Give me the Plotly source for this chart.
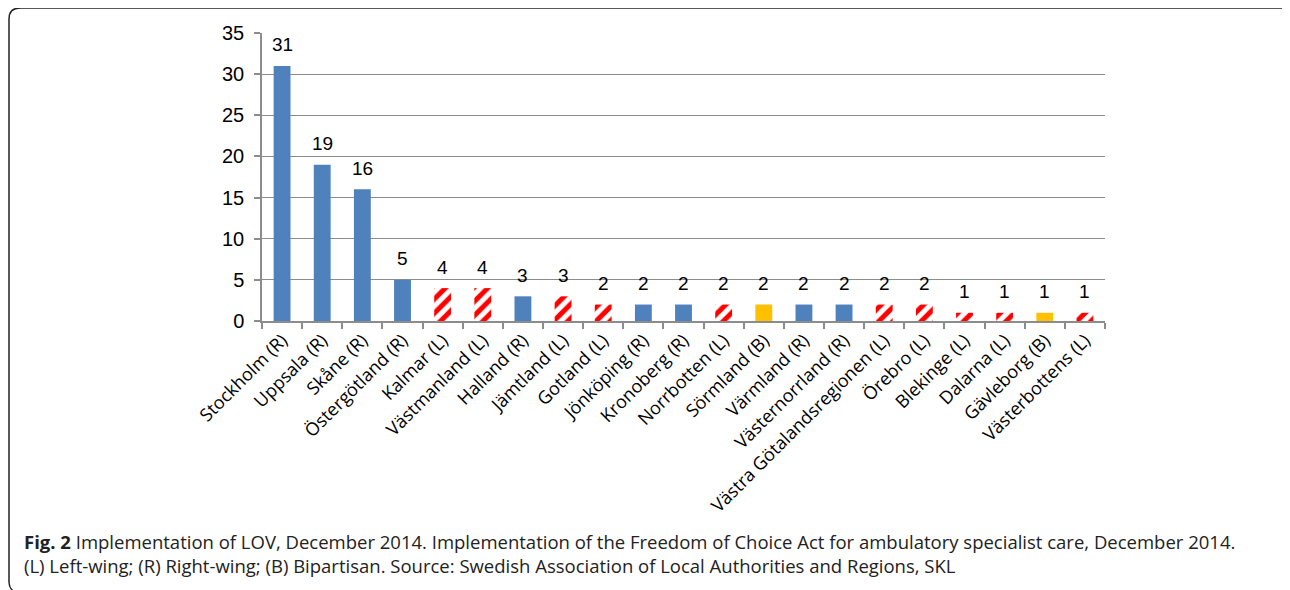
import plotly.graph_objects as go

categories = ["Stockholm (R)", "Uppsala (R)", "Skåne (R)", "Östergötland (R)", "Kalmar (L)",
              "Västmanland (L)", "Halland (R)", "Jämtland (L)", "Gotland (L)", "Jönköping (R)",
              "Kronoberg (R)", "Norrbotten (L)", "Sörmland (B)", "Värmland (R)", "Västernorrland (R)",
              "Västra Götalandsregionen (L)", "Örebro (L)", "Blekinge (L)", "Dalarna (L)",
              "Gävleborg (B)", "Västerbottens (L)"]
values = [31, 19, 16, 5, 4, 4, 3, 3, 2, 2, 2, 2, 2, 2, 2, 2, 2, 1, 1, 1, 1]
wing = ["R", "R", "R", "R", "L", "L", "R", "L", "L", "R", "R", "L", "B", "R", "R",
        "L", "L", "L", "L", "B", "L"]
y_ticks = [0, 5, 10, 15, 20, 25, 30, 35]

OFF = 8  # page body margin
W, H = 1290 - OFF, 590 - OFF
L, R, T, B = 262 - OFF, 1105 - OFF, 33 - OFF, 321 - OFF  # plot area in figure pixels

BLUE = "#4F81BD"
GOLD = "#FFC000"
RED = "#FF0000"


def subset(code):
    xs = [c for c, w in zip(categories, wing) if w == code]
    ys = [v for v, w in zip(values, wing) if w == code]
    return xs, ys


fig = go.Figure()
xr, yr = subset("R")
fig.add_trace(go.Bar(x=xr, y=yr, marker=dict(color=BLUE, line=dict(width=0)), width=0.42))
xb, yb = subset("B")
fig.add_trace(go.Bar(x=xb, y=yb, marker=dict(color=GOLD, line=dict(width=0)), width=0.42))
xl, yl = subset("L")
fig.add_trace(go.Bar(x=xl, y=yl, width=0.42,
                     marker=dict(color="white", line=dict(width=0),
                                 pattern=dict(shape="/", fgcolor=RED, bgcolor="white",
                                              size=10, solidity=0.5, fillmode="replace",
                                              fgopacity=1))))


def px(x):
    return (x - OFF - L) / (R - L)


def py(y):
    return (B - (y - OFF)) / (B - T)


border = (f"M {px(1295)},{py(8)} L {px(20)},{py(8)} Q {px(9)},{py(8)} {px(9)},{py(19)} "
          f"L {px(9)},{py(582)} Q {px(9)},{py(589)} {px(15)},{py(592)}")

annotations = [
    dict(x=c, y=v, xref="x", yref="y", text=str(v), showarrow=False,
         yanchor="middle", xanchor="center", yshift=21,
         font=dict(family="Liberation Sans, Arial, sans-serif", size=19, color="black"))
    for c, v in zip(categories, values)
]
caption = ("<b>Fig. 2</b> Implementation of LOV, December 2014. Implementation of the Freedom of "
           "Choice Act for ambulatory specialist care, December 2014.<br>"
           "(L) Left-wing; (R) Right-wing; (B) Bipartisan. Source: Swedish Association of Local "
           "Authorities and Regions, SKL")
annotations.append(
    dict(xref="paper", yref="paper", x=px(22), y=py(553), xanchor="left", yanchor="middle",
         showarrow=False, align="left", text=caption,
         font=dict(family="Open Sans, Noto Sans, sans-serif", size=18.5, color="#222222")))

fig.update_layout(
    width=W, height=H,
    margin=dict(l=L, r=W - R, t=T, b=H - B),
    paper_bgcolor="white", plot_bgcolor="white",
    showlegend=False,
    barmode="overlay",
    font=dict(family="Liberation Sans, Arial, sans-serif", color="black"),
    xaxis=dict(
        categoryorder="array", categoryarray=categories,
        tickangle=-45,
        tickfont=dict(family="Open Sans, Noto Sans, sans-serif", size=18, color="black"),
        showline=True, linecolor="#8C8C8C", linewidth=1.5,
        ticks="outside", tickson="boundaries", ticklen=6, tickcolor="#8C8C8C", tickwidth=1.5,
        showgrid=False, range=[-0.5, len(categories) - 0.5],
    ),
    yaxis=dict(
        range=[0, 35], tickvals=y_ticks,
        tickfont=dict(family="Liberation Sans, Arial, sans-serif", size=20, color="black"),
        ticklabelstandoff=6,
        showline=True, linecolor="#8C8C8C", linewidth=1.5,
        ticks="outside", ticklen=6, tickcolor="#8C8C8C", tickwidth=1.5,
        showgrid=True, gridcolor="#8C8C8C", gridwidth=1.2,
        zeroline=False,
    ),
    shapes=[dict(type="path", xref="paper", yref="paper", path=border,
                 line=dict(color="#222222", width=1.5))],
    annotations=annotations,
)

fig.write_html("out.html")
